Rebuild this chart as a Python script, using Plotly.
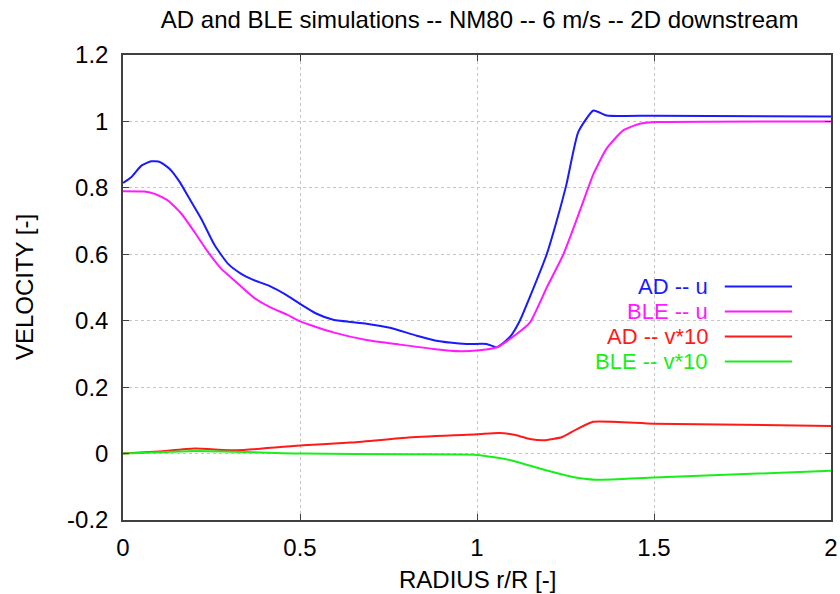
import plotly.graph_objects as go

# ---- data ----
r_ad_u = [0, 0.024, 0.052, 0.08, 0.104, 0.132, 0.16, 0.188, 0.221, 0.259, 0.297, 0.334, 0.368,
          0.415, 0.462, 0.5, 0.547, 0.594, 0.688, 0.754, 0.83, 0.895, 0.971, 1.027, 1.056,
          1.093, 1.121, 1.15, 1.197, 1.225, 1.253, 1.286, 1.329, 1.366, 1.5, 2.0]
v_ad_u = [0.815, 0.833, 0.867, 0.88, 0.878, 0.857, 0.818, 0.767, 0.707, 0.627, 0.571, 0.541, 0.523,
          0.504, 0.477, 0.451, 0.421, 0.403, 0.391, 0.379, 0.355, 0.338, 0.330, 0.330, 0.320,
          0.351, 0.40, 0.473, 0.60, 0.70, 0.812, 0.968, 1.033, 1.018, 1.017, 1.015]

r_ble_u = [0, 0.061, 0.09, 0.127, 0.165, 0.202, 0.24, 0.278, 0.315, 0.368, 0.415, 0.462, 0.5,
           0.594, 0.688, 0.782, 0.877, 0.952, 0.999, 1.056, 1.112, 1.15, 1.197, 1.244, 1.291,
           1.329, 1.366, 1.413, 1.46, 1.508, 2.0]
v_ble_u = [0.79, 0.789, 0.782, 0.762, 0.722, 0.667, 0.607, 0.556, 0.521, 0.471, 0.441, 0.419, 0.398,
           0.365, 0.342, 0.328, 0.315, 0.308, 0.310, 0.320, 0.36, 0.395, 0.50, 0.60, 0.732,
           0.842, 0.918, 0.973, 0.993, 0.998, 1.0]

r_ad_v = [0, 0.1, 0.202, 0.322, 0.509, 0.642, 0.80, 1.0, 1.061, 1.108, 1.15, 1.188, 1.241,
          1.281, 1.328, 1.5, 2.0]
v_ad_v = [0, 0.006, 0.015, 0.010, 0.025, 0.033, 0.048, 0.058, 0.062, 0.056, 0.044, 0.040, 0.050,
          0.073, 0.096, 0.090, 0.083]

r_ble_v = [0, 0.1, 0.202, 0.509, 0.8, 1.0, 1.095, 1.201, 1.268, 1.334, 1.5, 2.0]
v_ble_v = [0, 0.004, 0.008, 0.0, -0.002, -0.004, -0.02, -0.052, -0.07, -0.079, -0.072, -0.052]

names = ["AD -- u", "BLE -- u", "AD -- v*10", "BLE -- v*10"]
colors = ["#1a1aff", "#ff1aff", "#ff1a1a", "#1aee1a"]

x_ticks = [0, 0.5, 1, 1.5, 2]
x_tick_text = ["0", "0.5", "1", "1.5", "2"]
y_ticks = [-0.2, 0, 0.2, 0.4, 0.6, 0.8, 1.0, 1.2]
y_tick_text = ["-0.2", "0", "0.2", "0.4", "0.6", "0.8", "1", "1.2"]

title_text = "AD and BLE simulations -- NM80 -- 6 m/s -- 2D downstream"
x_title = "RADIUS r/R [-]"
y_title = "VELOCITY [-]"

FONT = "Liberation Sans, Arial, sans-serif"
FS = 24
KEY_FS = 22

fig = go.Figure()
series = [(r_ad_u, v_ad_u), (r_ble_u, v_ble_u), (r_ad_v, v_ad_v), (r_ble_v, v_ble_v)]
for (xs, ys), n, c in zip(series, names, colors):
    fig.add_trace(go.Scatter(x=xs, y=ys, mode="lines", name=n,
                             line=dict(color=c, width=2, shape="spline", smoothing=0.5),
                             showlegend=False))

# custom gnuplot-style key: right-aligned text with line sample on the right
shapes = [dict(type="rect", xref="paper", yref="paper", x0=0.603, x1=0.966, y0=0.318, y1=0.53,
               fillcolor="white", line=dict(width=0), layer="between")]
annotations = []
key_top = 0.502
key_step = 25 / 465
for i, (n, c) in enumerate(zip(names, colors)):
    yy = key_top - i * key_step
    annotations.append(dict(text=n, xref="paper", yref="paper", x=0.829, y=yy,
                            xanchor="right", yanchor="middle", showarrow=False,
                            font=dict(color=c, size=KEY_FS, family=FONT)))
    shapes.append(dict(type="line", xref="paper", yref="paper", x0=0.850, x1=0.945,
                       y0=yy, y1=yy, line=dict(color=c, width=2)))

# axis titles placed as gnuplot does
annotations.append(dict(text=x_title, xref="paper", yref="paper", x=0.5, y=-0.129,
                        xanchor="center", yanchor="middle", showarrow=False,
                        font=dict(size=FS, family=FONT, color="black")))
annotations.append(dict(text=y_title, xref="paper", yref="paper", x=-0.139, y=0.5,
                        xanchor="center", yanchor="middle", showarrow=False, textangle=-90,
                        font=dict(size=FS, family=FONT, color="black")))

fig.update_layout(
    width=840, height=594,
    margin=dict(l=123, r=9, t=55, b=74),
    paper_bgcolor="white", plot_bgcolor="white",
    font=dict(family=FONT, size=FS, color="black"),
    title=dict(text=title_text, x=0.571, xanchor="center",
               y=1 - 20 / 594, yanchor="middle", font=dict(size=FS)),
    shapes=shapes, annotations=annotations,
)
axis_common = dict(showgrid=True, gridcolor="#c4c4c4", griddash="dot", gridwidth=1,
                   showline=True, linecolor="#404040", linewidth=1.5, mirror="ticks",
                   ticks="inside", ticklen=6, tickcolor="#404040", zeroline=False,
                   automargin=False)
fig.update_xaxes(range=[0, 2], tickvals=x_ticks, ticktext=x_tick_text,
                 ticklabelstandoff=5, **axis_common)
fig.update_yaxes(range=[-0.2, 1.2], tickvals=y_ticks, ticktext=y_tick_text,
                 ticklabelstandoff=8, **axis_common)

fig.write_html("out.html")
